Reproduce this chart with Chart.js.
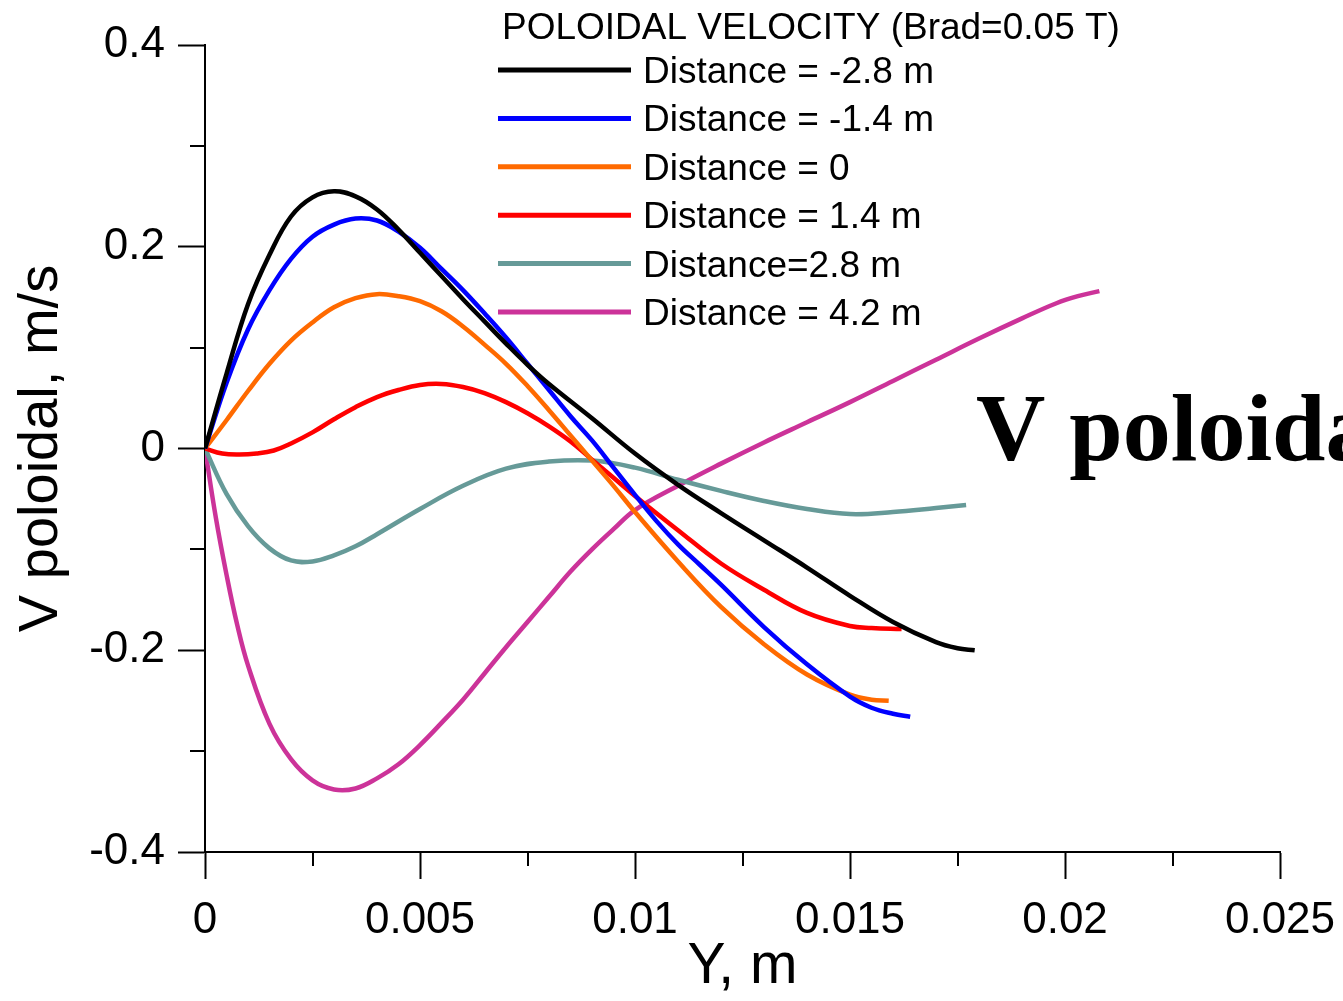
<!DOCTYPE html>
<html>
<head>
<meta charset="utf-8">
<script src="https://cdn.jsdelivr.net/npm/chart.js@4/dist/chart.umd.min.js"></script>
<style>
html,body{margin:0;padding:0;background:#fff;}
#wrap{width:1343px;height:1001px;position:relative;}
</style>
</head>
<body>
<div id="wrap"><canvas id="c" width="1343" height="1001"></canvas></div>
<script>
// ---- Data ----
const legendTitle = 'POLOIDAL VELOCITY (Brad=0.05 T)';
const seriesLabels = ['Distance = -2.8 m','Distance = -1.4 m','Distance = 0','Distance = 1.4 m','Distance=2.8 m','Distance = 4.2 m'];
const seriesColors = ['#000000','#0000ff','#ff6a00','#ff0000','#669a98','#cc3399'];

const xM28 = [0,0.0005,0.001,0.0015,0.002,0.0025,0.003,0.0035,0.004,0.0045,0.005,0.0055,0.006,0.0065,0.007,0.0075,0.008,0.009,0.010,0.011,0.012,0.013,0.014,0.015,0.016,0.017,0.0175,0.0179];
const yM28 = [0,0.074,0.143,0.192,0.230,0.249,0.255,0.250,0.237,0.217,0.194,0.171,0.148,0.126,0.104,0.083,0.064,0.030,-0.005,-0.036,-0.064,-0.091,-0.118,-0.146,-0.172,-0.192,-0.198,-0.200];

const xM14 = [0,0.0005,0.001,0.0015,0.002,0.0025,0.003,0.0035,0.004,0.0045,0.005,0.0055,0.006,0.0065,0.007,0.0075,0.008,0.0085,0.009,0.0095,0.010,0.0105,0.011,0.0115,0.012,0.013,0.014,0.015,0.0155,0.016,0.0164];
const yM14 = [0,0.065,0.118,0.157,0.188,0.210,0.222,0.228,0.226,0.215,0.199,0.178,0.157,0.134,0.110,0.084,0.058,0.032,0.008,-0.019,-0.046,-0.072,-0.095,-0.115,-0.135,-0.177,-0.214,-0.246,-0.257,-0.263,-0.266];

const x0 = [0,0.0005,0.001,0.0015,0.002,0.0025,0.003,0.0035,0.004,0.0045,0.005,0.0055,0.006,0.0065,0.007,0.0075,0.008,0.0085,0.009,0.0095,0.010,0.011,0.012,0.013,0.014,0.015,0.0155,0.0159];
const y0 = [0,0.028,0.057,0.084,0.107,0.125,0.140,0.149,0.153,0.151,0.146,0.136,0.121,0.103,0.084,0.062,0.038,0.013,-0.012,-0.037,-0.063,-0.112,-0.157,-0.194,-0.224,-0.244,-0.249,-0.250];

const xP14 = [0,0.0004,0.0008,0.0012,0.0016,0.002,0.0025,0.003,0.0035,0.004,0.0045,0.005,0.0055,0.006,0.0065,0.007,0.0075,0.008,0.0085,0.009,0.0095,0.010,0.011,0.012,0.013,0.014,0.015,0.0155,0.0162];
const yP14 = [0,-0.005,-0.006,-0.005,-0.002,0.005,0.016,0.029,0.041,0.051,0.058,0.063,0.064,0.061,0.055,0.046,0.035,0.022,0.007,-0.011,-0.029,-0.047,-0.081,-0.114,-0.140,-0.163,-0.176,-0.178,-0.179];

const xP28 = [0,0.0005,0.001,0.0015,0.002,0.0025,0.003,0.0035,0.004,0.005,0.006,0.007,0.008,0.009,0.010,0.011,0.012,0.013,0.014,0.015,0.016,0.017,0.0177];
const yP28 = [0,-0.045,-0.077,-0.099,-0.111,-0.112,-0.106,-0.097,-0.085,-0.060,-0.037,-0.020,-0.013,-0.012,-0.019,-0.031,-0.042,-0.052,-0.060,-0.065,-0.063,-0.059,-0.056];

const xP42 = [0,0.00025,0.0005,0.00075,0.001,0.0015,0.002,0.0025,0.003,0.0035,0.004,0.0045,0.005,0.0055,0.006,0.0065,0.007,0.0075,0.008,0.0085,0.009,0.0095,0.010,0.011,0.012,0.013,0.014,0.015,0.016,0.017,0.018,0.019,0.0198,0.0203,0.0208];
const yP42 = [0,-0.068,-0.125,-0.175,-0.215,-0.273,-0.308,-0.329,-0.338,-0.337,-0.327,-0.313,-0.294,-0.272,-0.249,-0.223,-0.197,-0.172,-0.147,-0.122,-0.100,-0.080,-0.061,-0.037,-0.015,0.006,0.026,0.046,0.067,0.088,0.109,0.129,0.144,0.151,0.156];

const xTickValues = [0,0.005,0.01,0.015,0.02,0.025];
const xTickLabels = ['0','0.005','0.01','0.015','0.02','0.025'];
const yTickValues = [-0.4,-0.2,0,0.2,0.4];
const yTickLabels = ['-0.4','-0.2','0','0.2','0.4'];
const xMinorValues = [0.0025,0.0075,0.0125,0.0175,0.0225];
const yMinorValues = [-0.3,-0.1,0.1,0.3];
const annotationText = 'V poloidal';

// ---- Build ----
const xs = [xM28,xM14,x0,xP14,xP28,xP42];
const ys = [yM28,yM14,y0,yP14,yP28,yP42];
const datasets = seriesLabels.map((lab,i)=>({
  label: lab,
  data: xs[i].map((x,j)=>({x:x,y:ys[i][j]})),
  borderColor: seriesColors[i],
  backgroundColor: seriesColors[i],
  borderWidth: 4.5,
  pointRadius: 0,
  fill: false,
  tension: 0.4
}));

const SANS = "'Liberation Sans', Arial, sans-serif";

const extras = {
  id: 'extras',
  afterDraw(chart){
    const ctx = chart.ctx;
    const xs_ = chart.scales.x, ys_ = chart.scales.y;
    ctx.save();
    // minor ticks
    ctx.strokeStyle = '#000'; ctx.lineWidth = 2;
    ctx.beginPath();
    xMinorValues.forEach(v=>{
      const px = Math.round(xs_.getPixelForValue(v));
      ctx.moveTo(px, xs_.top); ctx.lineTo(px, xs_.top + 14);
    });
    yMinorValues.forEach(v=>{
      const py = Math.round(ys_.getPixelForValue(v));
      ctx.moveTo(ys_.right, py); ctx.lineTo(ys_.right - 15, py);
    });
    ctx.stroke();
    // legend
    ctx.fillStyle = '#000';
    ctx.font = '37px ' + SANS;
    ctx.textBaseline = 'alphabetic';
    ctx.textAlign = 'left';
    ctx.fillText(legendTitle, 502, 39);
    chart.data.datasets.forEach((ds,i)=>{
      const y = 70 + i*48.4;
      ctx.strokeStyle = ds.borderColor; ctx.lineWidth = 5;
      ctx.beginPath(); ctx.moveTo(498, y); ctx.lineTo(631, y); ctx.stroke();
      ctx.fillStyle = '#000';
      ctx.font = '37px ' + SANS;
      ctx.fillText(ds.label, 643, y + 13);
    });
    // annotation
    ctx.font = "bold 96px 'Liberation Serif', 'Times New Roman', serif";
    ctx.fillStyle = '#000';
    ctx.fillText(annotationText, 976, 460);
    ctx.restore();
  }
};

new Chart(document.getElementById('c'), {
  type: 'line',
  data: { datasets },
  plugins: [extras],
  options: {
    responsive: false,
    animation: false,
    devicePixelRatio: 1,
    layout: { padding: { top: 45, right: 63, left: 0, bottom: 0 } },
    plugins: { legend: { display: false }, tooltip: { enabled: false } },
    scales: {
      x: {
        type: 'linear', min: 0, max: 0.025,
        afterBuildTicks: s => { s.ticks = xTickValues.map(v=>({value:v})); },
        afterFit: s => { s.height = 149; s.paddingLeft = 0; s.paddingRight = 0; },
        ticks: {
          callback: (v) => { const k = xTickValues.indexOf(v); return k>=0 ? xTickLabels[k] : ''; },
          font: { family: SANS, size: 44 }, color: '#000', padding: 15, maxRotation: 0, autoSkip: false
        },
        grid: { drawOnChartArea: false, drawTicks: true, tickLength: 27, tickWidth: 2, tickColor: '#000' },
        border: { display: true, color: '#000', width: 2 },
        title: { display: true, text: 'Y, m', color: '#000', font: { family: SANS, size: 57 }, padding: { top: 0, bottom: 0 } }
      },
      y: {
        type: 'linear', min: -0.4, max: 0.4,
        afterBuildTicks: s => { s.ticks = yTickValues.map(v=>({value:v})); },
        afterFit: s => { s.width = 205; s.paddingTop = 0; s.paddingBottom = 0; },
        ticks: {
          callback: (v) => { const k = yTickValues.indexOf(v); return k>=0 ? yTickLabels[k] : ''; },
          font: { family: SANS, size: 44 }, color: '#000', padding: 13, autoSkip: false
        },
        grid: { drawOnChartArea: false, drawTicks: true, tickLength: 27, tickWidth: 2, tickColor: '#000' },
        border: { display: true, color: '#000', width: 2 },
        title: { display: true, text: 'V poloidal, m/s', color: '#000', font: { family: SANS, size: 56 }, padding: { top: 8, bottom: 0 } }
      }
    }
  }
});
</script>
</body>
</html>
